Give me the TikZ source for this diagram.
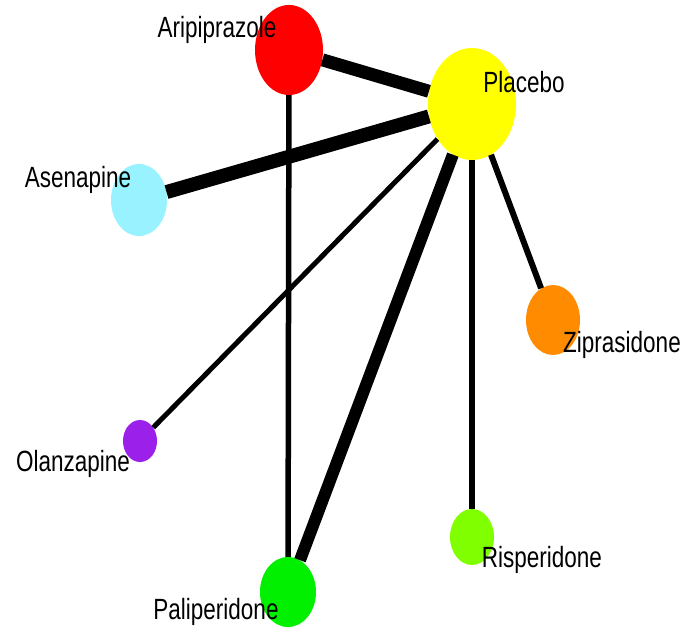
\documentclass[tikz,border=0pt]{standalone}
\usepackage{fontspec}
\setmainfont{Liberation Sans}
\usetikzlibrary{shapes.geometric}
\definecolor{asecol}{HTML}{98F2FF}
\definecolor{olacol}{HTML}{9B20EA}
\definecolor{zipcol}{HTML}{FF8C00}
\definecolor{riscol}{HTML}{7FFF00}
\definecolor{palcol}{HTML}{00F000}
\definecolor{placol}{HTML}{FFFF00}
\tikzset{
		drug/.style 2 args={ellipse, inner sep=0pt, minimum width=#1, minimum height=#2},
		lbl/.style={inner sep=0pt, font=\fontsize{22.5}{24}\selectfont},
		arm/.style={line width=#1, black}
	}
\newcommand{\tall}[1]{\scalebox{1}[1.3]{#1}}

\begin{document}
\begin{tikzpicture}[x=1pt, y=1pt] % one unit = one pixel of the reference
		\useasboundingbox (0,0) rectangle (685,633);
		% the treatments
		\node[drug={68}{90}, fill=red] (ari) at (289,583) {};
		\node[drug={88}{112}, fill=placol] (pla) at (472,529) {};
		\node[drug={56}{72}, fill=asecol] (ase) at (139,433) {};
		\node[drug={54}{70}, fill=zipcol] (zip) at (553,313) {};
		\node[drug={34}{42}, fill=olacol] (ola) at (140,192) {};
		\node[drug={44}{56}, fill=riscol] (ris) at (472,96) {};
		\node[drug={56}{70}, fill=palcol] (pal) at (288,41) {};
		% the comparisons
		\draw[arm=13] (ari) -- (pla);
		\draw[arm=5.5] (ari) -- (pal);
		\draw[arm=14] (ase) -- (pla);
		\draw[arm=5] (ola) -- (pla);
		\draw[arm=12] (pal) -- (pla);
		\draw[arm=6] (ris) -- (pla);
		\draw[arm=6] (zip) -- (pla);
		% names
		\node[lbl] (tari) at (217,603) {\tall{Aripiprazole}};
		\node[lbl] (tpla) at (524,551) {\tall{Placebo}};
		\node[lbl] (tase) at (78,453) {\tall{Asenapine}};
		\node[lbl] (tola) at (73,169) {\tall{Olanzapine}};
		\node[lbl] (tzip) at (622,288) {\tall{Ziprasidone}};
		\node[lbl] (tris) at (542,73) {\tall{Risperidone}};
		\node[lbl] (tpal) at (216,21) {\tall{Paliperidone}};
	\end{tikzpicture}
\end{document}
